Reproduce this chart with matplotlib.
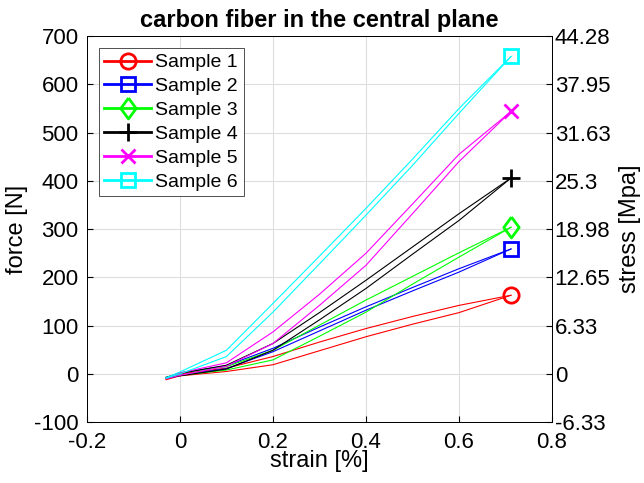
import numpy as np
import matplotlib
matplotlib.use('Agg')
import matplotlib.pyplot as plt
from matplotlib.lines import Line2D

plt.rcParams['font.family'] = ['Liberation Sans', 'DejaVu Sans']
plt.rcParams['axes.unicode_minus'] = False

Strain = [-0.03, 0.0, 0.1, 0.2, 0.3, 0.4, 0.5, 0.6, 0.712]

# force [N], two branches per sample (loading / unloading)
Upper = {
    'Sample 1': [-10, 0, 12, 36, 66, 94, 119, 142, 163],
    'Sample 2': [-8, 2, 17, 53, 97, 139, 179, 218, 259],
    'Sample 3': [-8, 2, 15, 49, 101, 153, 202, 251, 304],
    'Sample 4': [-7, 1, 18, 63, 127, 194, 263, 332, 406],
    'Sample 5': [-9, 2, 23, 87, 165, 250, 352, 455, 544],
    'Sample 6': [-8, 4, 49, 146, 244, 343, 445, 550, 658],
}
Lower = {
    'Sample 1': [-12, -4, 5, 19, 48, 77, 103, 127, 163],
    'Sample 2': [-9, -3, 11, 46, 89, 132, 172, 211, 259],
    'Sample 3': [-9, -3, 8, 29, 78, 128, 186, 242, 304],
    'Sample 4': [-9, -4, 10, 49, 112, 177, 248, 318, 406],
    'Sample 5': [-10, -3, 16, 63, 142, 225, 332, 440, 544],
    'Sample 6': [-9, 0, 36, 128, 228, 329, 432, 540, 658],
}
Colors = ['#ff0000', '#0000ff', '#00ff00', '#000000', '#ff00ff', '#00ffff']
Diamond = [(0, 1), (0.74, 0), (0, -1), (-0.74, 0), (0, 1)]
Markers = ['o', 's', Diamond, '+', 'x', 's']
MarkerSizes = [11, 9.5, 15, 13, 9.5, 9.5]

ForceTicks = [-100, 0, 100, 200, 300, 400, 500, 600, 700]
StressLabels = ['-6.33', '0', '6.33', '12.65', '18.98', '25.3', '31.63', '37.95', '44.28']
StrainTicks = [-0.2, 0, 0.2, 0.4, 0.6, 0.8]

fig = plt.figure(figsize=(6.44, 4.83), dpi=100)
ax = fig.add_axes([0.135, 0.126, 0.722, 0.799])

handles = []
for i, name in enumerate(Upper):
    c = Colors[i]
    ax.plot(Strain, Upper[name], color=c, lw=0.8)
    ax.plot(Strain, Lower[name], color=c, lw=0.8)
    ax.plot(Strain[-1], Upper[name][-1], marker=Markers[i], color=c,
            ms=MarkerSizes[i], mew=2, mfc='none', ls='none')
    handles.append(Line2D([], [], color=c, lw=2, marker=Markers[i],
                          ms=MarkerSizes[i], mew=2, mfc='none', label=name))

ax.set_xlim(-0.2, 0.8)
ax.set_ylim(-100, 700)
ax.set_xticks(StrainTicks)
ax.set_xticklabels(['-0.2', '0', '0.2', '0.4', '0.6', '0.8'])
ax.set_yticks(ForceTicks)
ax.grid(True, color='#dedede', lw=0.8)
ax.set_axisbelow(True)
ax.tick_params(axis='y', direction='in', labelsize=16, length=4, pad=6, right=False)
ax.tick_params(axis='x', direction='in', labelsize=16, length=4, pad=7, top=False)
ax.set_xlabel('strain [%]', fontsize=17, labelpad=-2)
ax.set_ylabel('force [N]', fontsize=17, labelpad=4)
ax.set_title('carbon fiber in the central plane', fontsize=17, fontweight='bold', pad=7)
for s in ax.spines.values():
    s.set_linewidth(0.7)

ax2 = ax.twinx()
ax2.set_ylim(-100, 700)
ax2.set_yticks(ForceTicks)
ax2.set_yticklabels(StressLabels)
ax2.tick_params(direction='in', labelsize=16, length=4, pad=2)
ax2.set_ylabel('stress [Mpa]', fontsize=17, labelpad=6)
for s in ax2.spines.values():
    s.set_linewidth(0.7)

leg = ax.legend(handles=handles, loc='upper left', fontsize=14, fancybox=False,
                edgecolor='#333333', framealpha=1, handlelength=2.4,
                borderaxespad=0.6, borderpad=0.3, labelspacing=0.32,
                handletextpad=0.2)
leg.get_frame().set_linewidth(0.6)

fig.savefig('out.png', dpi=100)
